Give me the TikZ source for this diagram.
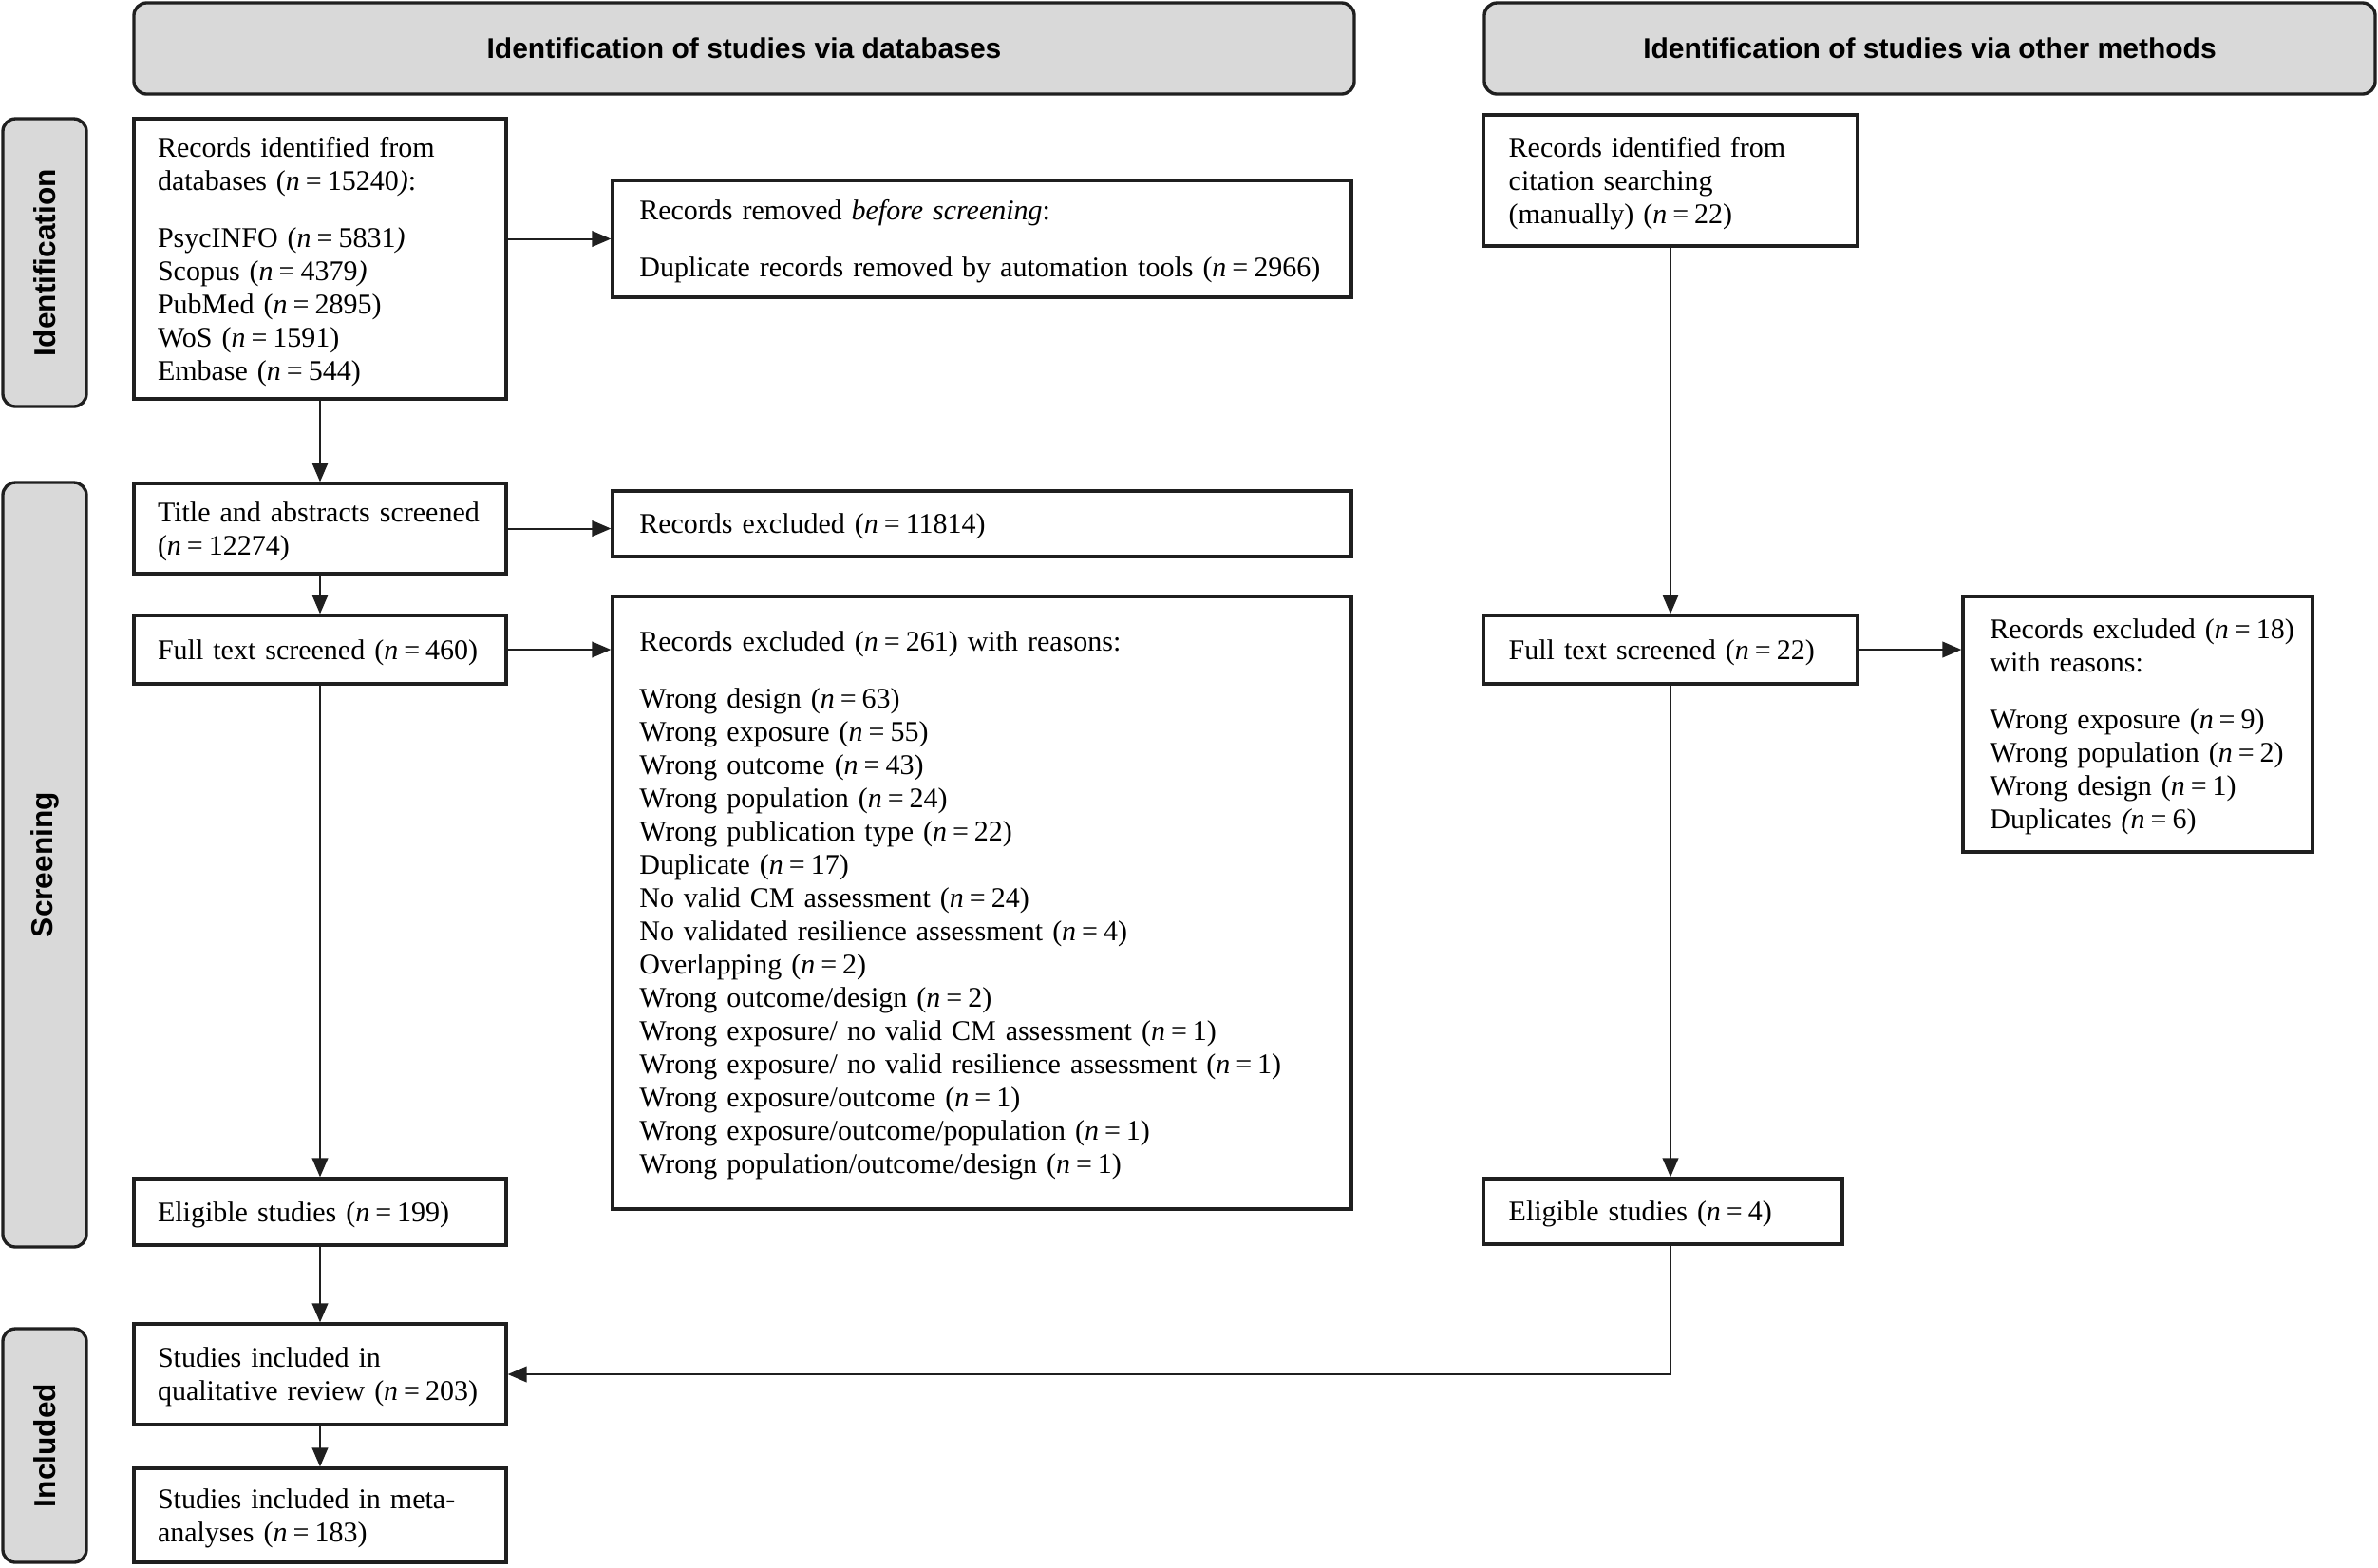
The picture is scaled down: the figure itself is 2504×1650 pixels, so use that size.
\documentclass[tikz,border=0pt]{standalone}
\usepackage{fontspec}
\setmainfont{Liberation Serif}
\newfontfamily\hdfont{Liberation Sans}
\usetikzlibrary{arrows.meta,calc}
\newcommand{\tb}[1]{\begin{tabular}{@{}l@{}}\rule{0pt}{9.4pt}#1\end{tabular}}
\newcommand{\eqs}{\hspace{0.2em}=\hspace{0.2em}}
\newcommand{\nn}{\textit{n}\eqs}
\begin{document}
\begin{tikzpicture}[x=0.3pt,y=-0.3pt,
  box/.style={draw=black!88,line width=1pt,rectangle,fill=white,inner xsep=7.5pt,inner ysep=0pt,
    font=\fontsize{9}{10.5}\selectfont},
  hdr/.style={draw=black!88,line width=1pt,rounded corners=4pt,fill=gray!30,
    font=\hdfont\bfseries\fontsize{9}{11}\selectfont,minimum height=28.8pt},
  side/.style={draw=black!88,line width=1pt,rounded corners=4pt,fill=gray!30,rotate=90,
    font=\hdfont\bfseries\fontsize{9.5}{11}\selectfont,minimum height=26.4pt,inner sep=0pt},
  arr/.style={-{Triangle[length=6pt,width=5pt]},line width=0.6pt,draw=black!88}]
\useasboundingbox (0,0) rectangle (2504,1650);

% headers
\node[hdr,minimum width=385.5pt] (h1) at (783.5,51) {Identification of studies via databases};
\node[hdr,minimum width=281.4pt] (h2) at (2032,51) {Identification of studies via other methods};

% side labels
\node[side,minimum width=90.9pt] (sI) at (47,276.5) {Identification};
\node[side,minimum width=241.5pt] (sS) at (47,910.5) {Screening};
\node[side,minimum width=73.8pt] (sN) at (47,1522) {Included};

% left column
\node[box,text width=102.6pt,minimum height=88.5pt] (db) at (337,272.5) {\tb{Records identified from\\
 databases (\nn 15240\textit{)}:\\[7.5pt]
 PsycINFO (\nn 5831\textit{)}\\
 Scopus (\nn 4379\textit{)}\\
 PubMed (\nn 2895)\\
 WoS (\nn 1591)\\
 Embase (\nn 544)}};
\node[box,text width=102.6pt,minimum height=28.5pt] (ta) at (337,556.5) {\tb{Title and abstracts screened\\ (\nn 12274)}};
\node[box,text width=102.6pt,minimum height=21.6pt] (ft) at (337,684) {\tb{Full text screened (\nn 460)}};
\node[box,text width=102.6pt,minimum height=21pt] (el) at (337,1276) {\tb{Eligible studies (\nn 199)}};
\node[box,text width=102.6pt,minimum height=31.8pt] (qual) at (337,1447) {\tb{Studies included in\\ qualitative review (\nn 203)}};
\node[box,text width=102.6pt,minimum height=29.7pt] (meta) at (337,1595.5) {\tb{Studies included in meta-\\ analyses (\nn 183)}};

% middle column
\node[box,inner xsep=8.5pt,text width=216.4pt,minimum height=36.9pt] (rem) at (1034,251.5) {\tb{Records removed \textit{before screening}:\\[7.5pt]
 Duplicate records removed by automation tools (\nn 2966)}};
\node[box,inner xsep=8.5pt,text width=216.4pt,minimum height=20.7pt] (ex1) at (1034,551.5) {\tb{Records excluded (\nn 11814)}};
\node[box,inner xsep=8.5pt,text width=216.4pt,minimum height=193.5pt] (ex2) at (1034,950.5) {\tb{Records excluded (\nn 261) with reasons:\\[7.5pt]
 Wrong design (\nn 63)\\
 Wrong exposure (\nn 55)\\
 Wrong outcome (\nn 43)\\
 Wrong population (\nn 24)\\
 Wrong publication type (\nn 22)\\
 Duplicate (\nn 17)\\
 No valid CM assessment (\nn 24)\\
 No validated resilience assessment (\nn 4)\\
 Overlapping (\nn 2)\\
 Wrong outcome/design (\nn 2)\\
 Wrong exposure/ no valid CM assessment (\nn 1)\\
 Wrong exposure/ no valid resilience assessment (\nn 1)\\
 Wrong exposure/outcome (\nn 1)\\
 Wrong exposure/outcome/population (\nn 1)\\
 Wrong population/outcome/design (\nn 1)}};

% right side
\node[box,inner xsep=8pt,text width=102.2pt,minimum height=41.4pt] (cit) at (1759,190) {\tb{Records identified from\\ citation searching\\ (manually) (\nn 22)}};
\node[box,inner xsep=8pt,text width=102.2pt,minimum height=21.6pt] (ft2) at (1759,684) {\tb{Full text screened (\nn 22)}};
\node[box,inner xsep=8pt,text width=97.4pt,minimum height=20.7pt] (el4) at (1751,1275.5) {\tb{Eligible studies (\nn 4)}};
\node[box,inner xsep=8.5pt,text width=93.4pt,minimum height=80.7pt] (ex3) at (2251,762.5) {\tb{Records excluded (\nn 18)\\ with reasons:\\[7.5pt]
 Wrong exposure (\nn 9)\\
 Wrong population (\nn 2)\\
 Wrong design (\nn 1)\\
 Duplicates \textit{(n}\eqs 6)}};

% connectors
\draw[arr] (db) -- (ta);
\draw[arr] (ta) -- (ft);
\draw[arr] (ft) -- (el);
\draw[arr] (el) -- (qual);
\draw[arr] (qual) -- (meta);
\draw[arr] (db.east |- rem.west) -- (rem.west);
\draw[arr] (ta.east) -- (ta.east -| ex1.west);
\draw[arr] (ft.east) -- (ft.east -| ex2.west);
\draw[arr] (cit) -- (ft2);
\draw[arr] (ft2.east) -- (ft2.east -| ex3.west);
\draw[arr] (ft2.south) -- (ft2.south |- el4.north);
\draw[arr] (el4.south -| ft2.south) |- (qual.east);
\end{tikzpicture}
\end{document}
